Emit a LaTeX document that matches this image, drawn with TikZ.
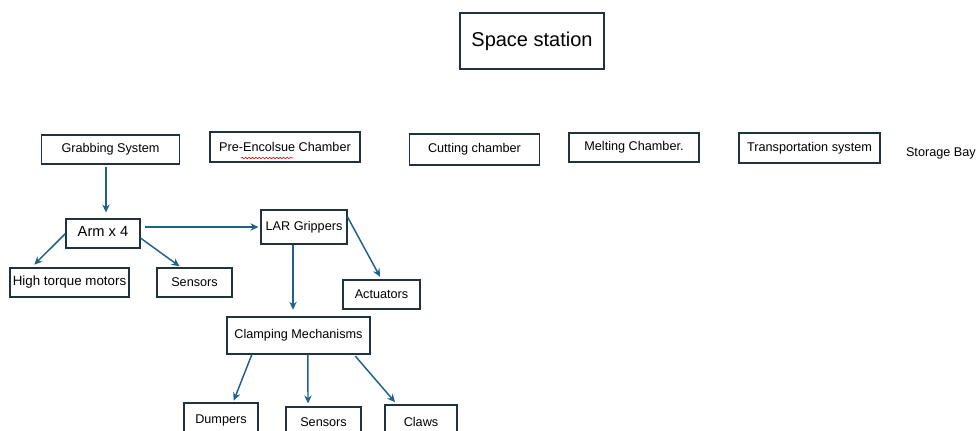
\documentclass[tikz,border=0pt]{standalone}
\usepackage{fontspec}
\setmainfont{Liberation Sans}
\usetikzlibrary{arrows.meta}
\usetikzlibrary{decorations.pathmorphing}
\definecolor{boxline}{RGB}{32,50,64}
\definecolor{arrowblue}{RGB}{30,98,140}

\begin{document}
\begin{tikzpicture}[x=0.75pt,y=-0.75pt]
			\tikzstyle{box}=[draw=boxline,line width=0.8pt,inner sep=1pt,font=\fontsize{9.5}{11}\selectfont]
			\tikzstyle{arr}=[draw=arrowblue,line width=1.1pt,-{Stealth[length=6pt,width=5.5pt]}]
			\tikzstyle{spell}=[draw=red,line width=0.45pt,decorate,decoration={snake,segment length=2.6pt,amplitude=0.6pt}]
			\useasboundingbox (0,0) rectangle (977,430);
			\clip (0,0) rectangle (977,430);
			
			\node[box,line width=1.3pt,minimum width=108pt,minimum height=42pt,font=\fontsize{15}{18}\selectfont] (station) at (532,41) {Space station};
			
			\node[box,minimum width=104pt,minimum height=21.75pt] (grab) at (110.5,149.5) {Grabbing System};
			\node[box,minimum width=112.5pt,minimum height=22.5pt] (pre) at (285,147) {Pre-Encolsue Chamber};
			\node[box,minimum width=98pt,minimum height=23.25pt] (cut) at (474.5,149.5) {Cutting chamber\hspace{8pt}};
			\node[box,minimum width=97.5pt,minimum height=21.75pt] (melt) at (634,147.5) {Melting Chamber.};
			\node[box,minimum width=105.75pt,minimum height=22.5pt] (trans) at (809.5,148) {\raisebox{1pt}{Transportation system}};
			\node[font=\fontsize{9.5}{11}\selectfont,anchor=east,inner sep=0pt] (store) at (976,153) {Storage Bay};
			\draw[spell] ([shift={(-44,11)}]pre.center) -- ([shift={(8,11)}]pre.center);
			
			\node[box,minimum width=55.5pt,minimum height=21.75pt,font=\fontsize{11}{13}\selectfont] (arm) at (103,233.5) {\raisebox{3pt}{Arm x 4}};
			\node[box,minimum width=89.25pt,minimum height=21.75pt,font=\fontsize{10}{12}\selectfont] (motors) at (69.5,282.5) {High torque motors};
			\node[box,minimum width=56.25pt,minimum height=21.75pt] (sensA) at (194.5,282.5) {Sensors};
			\node[box,minimum width=64.5pt,minimum height=25.5pt] (lar) at (304,227) {LAR Grippers};
			\node[box,minimum width=57.75pt,minimum height=21.75pt] (act) at (381.5,294.5) {\raisebox{-3pt}{Actuators}};
			\node[box,minimum width=107.25pt,minimum height=27.75pt] (clamp) at (298.5,335.5) {Clamping Mechanisms};
			\node[box,minimum width=55.5pt,minimum height=27pt] (dump) at (221,421) {\raisebox{3pt}{Dumpers}};
			\node[box,minimum width=56.25pt,minimum height=25.5pt] (sensB) at (323.5,424) {\raisebox{3pt}{Sensors}};
			\node[box,minimum width=54pt,minimum height=27pt] (claws) at (421,423) {\raisebox{2pt}{Claws}};
			
			\draw[arr,shorten <=2pt,shorten >=4.5pt] ([xshift=-3.4pt]grab.south) -- ([xshift=-3.4pt]grab.south |- arm.north);
			\draw[arr,shorten <=3pt,shorten >=1.5pt] (arm.east |- lar.west) -- (lar.west);
			\draw[arr,shorten >=3pt] (arm.west) -- ([xshift=16.5pt]motors.north west);
			\draw[arr,shorten >=1.5pt] ([yshift=-3.4pt]arm.east) -- ([xshift=-10pt]sensA.north);
			\draw[arr,shorten >=5pt] ([xshift=-8.25pt]lar.south) -- ([xshift=-8.25pt]lar.south |- clamp.north);
			\draw[arr,shorten >=2.25pt] ([yshift=7.5pt]lar.east) -- (act.north);
			\draw[arr,shorten >=1.5pt] ([xshift=-35pt]clamp.south) -- ([xshift=9pt]dump.north);
			\draw[arr,shorten >=2.25pt] ([xshift=7pt]clamp.south) -- ([xshift=-11.6pt]sensB.north);
			\draw[arr,shorten <=1.5pt,shorten >=2.25pt] ([xshift=41.6pt]clamp.south) -- ([xshift=-18pt]claws.north);
\end{tikzpicture}
\end{document}
